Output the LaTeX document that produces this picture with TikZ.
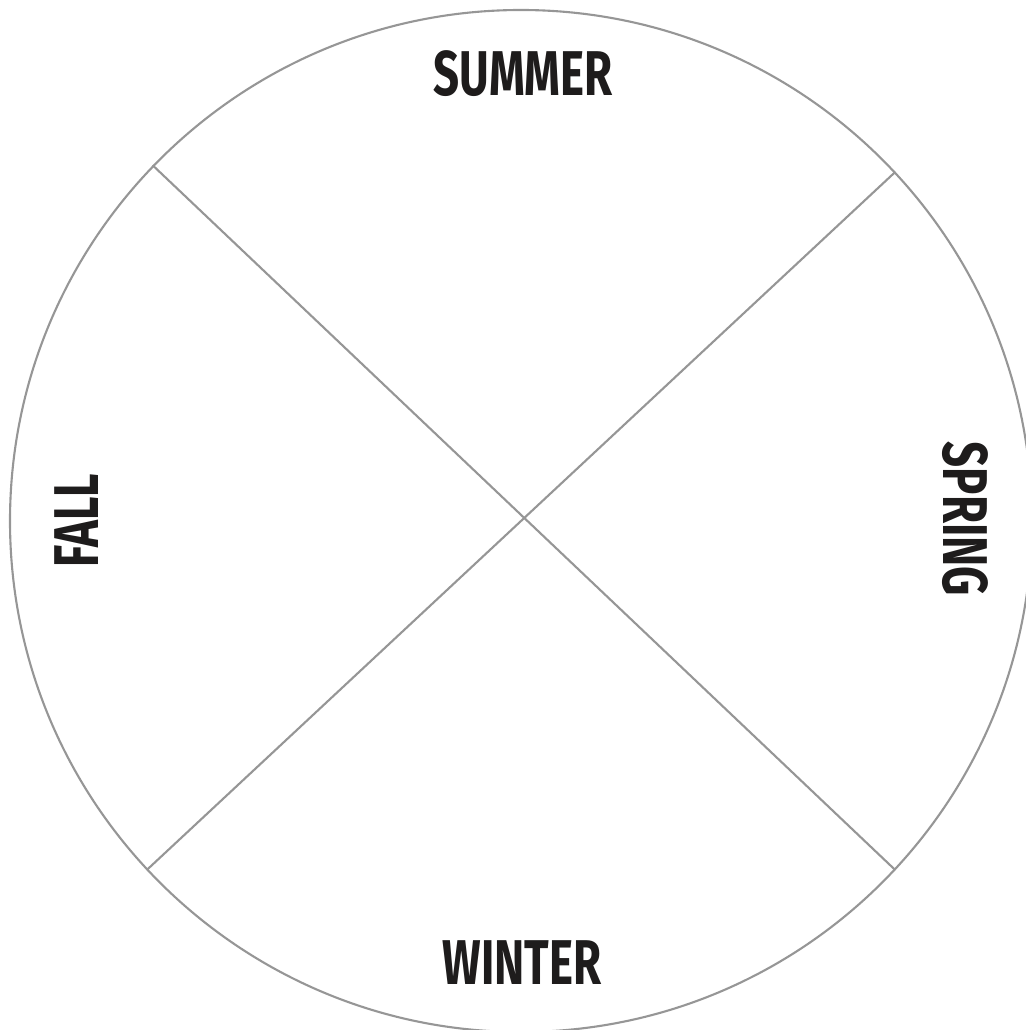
\documentclass[tikz,border=0pt]{standalone}
\usepackage{fontspec}
\setmainfont{Fira Sans}
\usepackage{tikz}
\usetikzlibrary{positioning}
\definecolor{rimgray}{RGB}{150,150,150}
\definecolor{inkblack}{RGB}{30,28,28}
\tikzset{
  rim/.style={circle, draw=rimgray, line width=0.6pt, minimum size=10.22cm, inner sep=0pt},
  split/.style={draw=rimgray, line width=0.6pt},
  season/.style={font=\fontsize{18}{20}\selectfont\bfseries, text=inkblack, inner sep=0pt}
}
\newcommand{\narrow}[1]{\scalebox{0.72}[1]{#1}}
\begin{document}
\begin{tikzpicture}
  \useasboundingbox (0,0) rectangle (10.26,10.30);
  \node[rim] (wheel) at (5.21,5.09) {};
  \draw[split] (wheel.136.6) -- (wheel.-43.4);
  \draw[split] (wheel.43.4) -- (wheel.223.4);
  \node[season] (summer) at (5.23,9.56) {\narrow{SUMMER}};
  \node[season] (winter) at (5.22,0.67) {\narrow{WINTER}};
  \node[season, rotate=90] (fall) at (0.77,5.09) {\narrow{FALL}};
  \node[season, rotate=-90] (spring) at (9.65,5.11) {\narrow{SPRING}};
\end{tikzpicture}
\end{document}
